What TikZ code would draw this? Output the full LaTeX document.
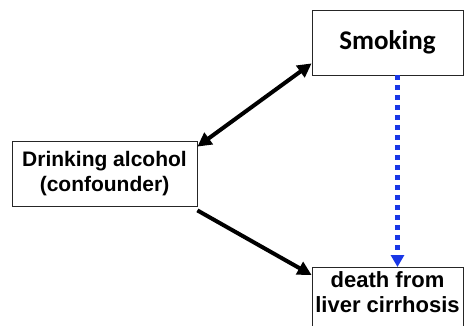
\documentclass[tikz,border=0pt]{standalone}
\usepackage{fontspec}
\setmainfont{Liberation Sans}
\newfontfamily\calibrifont{Carlito}
\usetikzlibrary{arrows.meta,positioning}
\definecolor{myblue}{RGB}{25,55,230}

\begin{document}
\begin{tikzpicture}[x=1pt,y=-1pt,
  box/.style={draw=black!85,line width=0.8pt,fill=white,inner sep=0pt},
  txt/.style={font=\bfseries\fontsize{21}{25}\selectfont,align=center,inner sep=0pt},
  causal/.style={line width=4pt,-{Triangle[length=14pt,width=14pt]}},
  unclear/.style={line width=5pt,draw=myblue,dash pattern=on 5pt off 5pt,
    -{Triangle[length=12pt,width=13pt,fill=myblue]}}]

  \useasboundingbox (0,0) rectangle (465,326);
  \clip (0,0) rectangle (465,326);

  \node[box,minimum width=151pt,minimum height=65pt] (smoke) at (387.5,42.5)
    {\calibrifont\bfseries\fontsize{27}{30}\selectfont Smoking};

  \node[box,txt,minimum width=185pt,minimum height=65pt] (drink) at (104.5,173.5)
    {Drinking alcohol\\(confounder)};

  % box for the outcome runs off the bottom
  \node[box,anchor=north,minimum width=151pt,minimum height=75pt] (death) at (387.5,267) {};
  \node[txt,font=\bfseries\fontsize{22}{25}\selectfont,below=4pt of death.north] (deathtext)
    {death from\\liver cirrhosis};

  % draw the arrows
  \draw[causal,{Triangle[length=14pt,width=14pt]}-{Triangle[length=14pt,width=14pt]}]
    ([yshift=-6pt]drink.north east) -- ([yshift=12pt]smoke.south west);
  \draw[causal] ([yshift=-4pt]drink.south east) -- ([yshift=-8pt]death.north west);
  \draw[unclear] ([xshift=10pt]smoke.south) -- ([xshift=10pt]death.north);

\end{tikzpicture}
\end{document}
